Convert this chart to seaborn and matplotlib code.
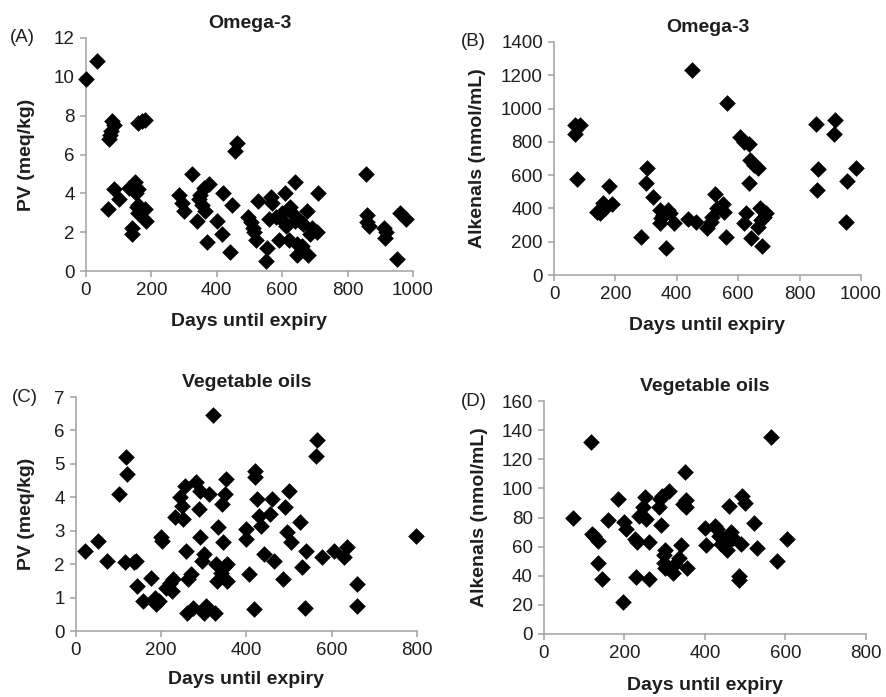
import matplotlib
matplotlib.use("Agg")
import matplotlib.pyplot as plt
import seaborn as sns
import pandas as pd

# Panel A - Omega-3, PV
a_days = [0, 35, 70, 72, 75, 78, 85, 68, 85, 100, 130, 140, 142, 150, 152, 155, 158, 160, 160, 158, 170, 180, 180, 185,
          285, 295, 300, 325, 340, 345, 350, 355, 360, 365, 370, 375, 400, 415, 420, 440, 448, 455, 462,
          495, 505, 510, 515, 520, 525, 550, 555, 560, 565, 570, 580, 590, 595, 600, 608, 612, 620, 625, 630,
          640, 640, 645, 645, 655, 660, 665, 675, 680, 685, 690, 705, 710,
          855, 860, 858, 865, 910, 915, 918, 950, 960, 980]
a_pv = [9.9, 10.8, 6.8, 7.0, 7.2, 7.7, 7.5, 3.2, 4.2, 3.7, 4.3, 1.9, 2.2, 4.6, 4.0, 3.3, 3.0, 4.2, 3.4, 7.6, 7.7, 7.8, 3.2, 2.6,
        3.9, 3.5, 3.1, 5.0, 2.6, 3.7, 3.9, 3.4, 4.3, 3.1, 1.5, 4.5, 2.6, 1.9, 4.0, 1.0, 3.4, 6.2, 6.6,
        2.8, 2.5, 2.2, 2.0, 1.6, 3.6, 0.5, 1.2, 2.7, 3.8, 3.5, 2.8, 1.6, 2.7, 3.0, 4.0, 2.3, 1.6, 3.3, 3.0,
        4.6, 2.6, 1.4, 0.8, 2.6, 1.3, 2.4, 3.1, 0.8, 1.9, 2.2, 2.0, 4.0,
        5.0, 2.9, 2.5, 2.3, 2.2, 1.7, 2.0, 0.6, 3.0, 2.7]

# Panel B - Omega-3, alkenals
b_days = [68, 70, 85, 75, 140, 150, 160, 165, 180, 190, 285, 302, 300, 322, 345, 345, 350, 355, 366, 370,
          378, 392, 437, 448, 464, 497, 510, 515, 524, 530, 550, 555, 560, 564, 605, 618, 636, 620, 625, 638,
          636, 650, 663, 643, 665, 670, 675, 676, 685, 690, 853, 861, 858, 915, 912, 951, 955, 984]
b_alk = [850, 900, 900, 575, 380, 370, 430, 400, 536, 424, 230, 640, 554, 470, 390, 310, 340, 360, 160, 390,
         370, 310, 334, 1234, 318, 280, 320, 350, 486, 400, 426, 380, 226, 1034, 830, 800, 786, 310, 370, 690,
         554, 660, 640, 220, 290, 400, 330, 174, 350, 370, 910, 634, 510, 930, 850, 320, 564, 644]

# Panel C - vegetable oils, PV
c_days = [22, 52, 72, 100, 115, 118, 120, 135, 140, 143, 157, 175, 185, 188, 195, 200, 202, 210, 220, 225,
          228, 232, 245, 250, 248, 255, 258, 262, 260, 270, 275, 282, 288, 290, 290, 295, 300, 305, 300, 313,
          322, 326, 328, 330, 334, 340, 342, 345, 348, 352, 350, 355, 355, 400, 400, 405, 418, 420, 420, 425,
          430, 435, 440, 455, 460, 465, 485, 490, 495, 500, 505, 525, 530, 538, 540, 566, 563, 578, 605, 628,
          635, 660, 660, 797]
c_pv = [2.4, 2.7, 2.1, 4.1, 2.05, 5.2, 4.7, 2.05, 2.1, 1.35, 0.9, 1.6, 1.0, 0.8, 0.9, 2.8, 2.7, 1.3, 1.45, 1.2,
        1.55, 3.4, 4.0, 3.35, 3.75, 4.35, 2.4, 1.55, 0.55, 1.7, 0.7, 4.45, 3.65, 4.2, 2.8, 2.1, 2.3, 0.75, 0.55, 4.1,
        6.45, 0.55, 2.0, 1.5, 3.1, 1.75, 3.8, 2.65, 1.9, 4.55, 4.1, 1.5, 2.0, 3.05, 2.75, 1.7, 0.65, 4.8, 4.6, 3.95,
        3.45, 3.15, 2.3, 3.5, 3.95, 2.1, 1.55, 3.7, 2.95, 4.2, 2.65, 3.25, 1.9, 0.7, 2.4, 5.7, 5.25, 2.2, 2.4, 2.2,
        2.5, 1.4, 0.75, 2.85]

# Panel D - vegetable oils, alkenals
d_days = [72, 118, 120, 125, 133, 135, 143, 158, 185, 197, 200, 203, 225, 230, 235, 228, 250, 245, 253, 260,
          262, 285, 288, 292, 290, 300, 298, 298, 300, 310, 320, 325, 335, 340, 345, 350, 352, 352, 355, 400,
          402, 425, 430, 435, 440, 445, 450, 455, 460, 465, 470, 485, 485, 490, 492, 500, 522, 530, 564, 578, 604]
d_alk = [80, 132, 69, 67, 64, 49, 38, 78, 93, 22, 77, 72, 65, 63, 81, 39, 94, 87, 79, 63,
         38, 87, 93, 95, 75, 58, 54, 49, 45, 98, 42, 48, 52, 61, 89, 111, 92, 87, 45, 73,
         61, 74, 72, 67, 62, 65, 61, 58, 88, 70, 66, 40, 37, 62, 95, 90, 76, 59, 135, 50, 65]

sns.set_style("ticks")
plt.rcParams['font.family'] = ['Liberation Sans', 'DejaVu Sans']

W, H = 887, 697
fig = plt.figure(figsize=(W / 100, H / 100), dpi=100)
txt = "#1e1e1e"
grey = "#a0a0a0"

# (tag, title, x, y, ylabel, ymax, ystep, xmax, axes box in px: left, top, right, bottom,
#  tag pos, ylabel x, xlabel y)
panels = [
    ("(A)", "Omega-3", a_days, a_pv, "PV (meq/kg)", 12, 2, 1000, (86, 38, 413, 271), (10, 38), 27, 322),
    ("(B)", "Omega-3", b_days, b_alk, "Alkenals (nmol/mL)", 1400, 200, 1000, (554, 42, 861, 275), (461, 42), 478, 325),
    ("(C)", "Vegetable oils", c_days, c_pv, "PV (meq/kg)", 7, 1, 800, (76, 397, 417, 631), (12, 398), 27, 680),
    ("(D)", "Vegetable oils", d_days, d_alk, "Alkenals (nmol/mL)", 160, 20, 800, (544, 401, 866, 634), (461, 401), 480, 686),
]

for tag, title, xs, ys, ylab, ymax, ystep, xmax, box, tagpos, ylx, xly in panels:
    l, t, r, b = box
    ax = fig.add_axes([l / W, 1 - b / H, (r - l) / W, (b - t) / H])
    df = pd.DataFrame({"days": xs, "val": ys})
    sns.scatterplot(data=df, x="days", y="val", marker="D", color="black", s=72,
                    edgecolor="black", linewidth=0, ax=ax, clip_on=False, zorder=3)
    ax.set_xlim(0, xmax)
    ax.set_ylim(0, ymax)
    ax.set_xticks(range(0, xmax + 1, 200))
    ax.set_yticks([i * ystep for i in range(int(ymax / ystep) + 1)])
    for side in ["top", "right"]:
        ax.spines[side].set_visible(False)
    for side in ["left", "bottom"]:
        ax.spines[side].set_color(grey)
        ax.spines[side].set_linewidth(1.1)
    ax.tick_params(colors=grey, labelcolor=txt, labelsize=13.5, length=4, width=1.1, pad=4)
    ax.set_xlabel("Days until expiry", fontsize=14, fontweight="bold", color=txt)
    ax.set_ylabel(ylab, fontsize=14, fontweight="bold", color=txt)
    ax.xaxis.set_label_coords(((l + r) / 2) / W, 1 - xly / H, transform=fig.transFigure)
    ax.xaxis.label.set_va("center")
    ax.yaxis.set_label_coords(ylx / W, 1 - ((t + b) / 2) / H, transform=fig.transFigure)
    ax.yaxis.label.set_va("center")
    ax.set_title(title, fontsize=14, fontweight="bold", color=txt, pad=7)
    fig.text(tagpos[0] / W, 1 - tagpos[1] / H, tag, fontsize=13.5, color=txt,
             ha="left", va="center")

fig.savefig("out.png", dpi=100)
